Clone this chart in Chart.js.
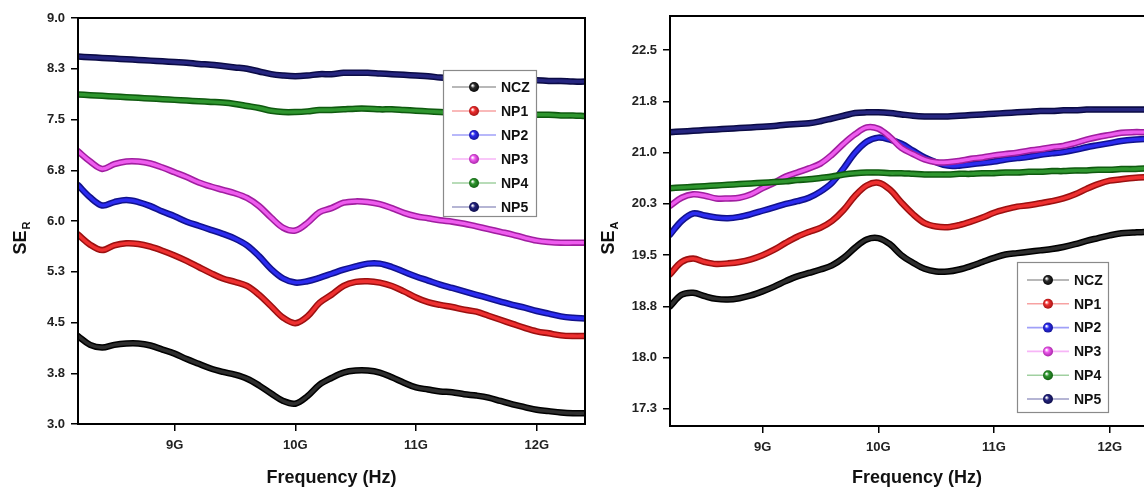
<!DOCTYPE html>
<html>
<head>
<meta charset="utf-8">
<script src="https://cdn.jsdelivr.net/npm/chart.js@4.4.1/dist/chart.umd.min.js"></script>
<style>
  html, body { margin: 0; padding: 0; background: #fff; overflow: hidden; width: 1144px; height: 488px; }
  .panel { position: absolute; top: 0; width: 600px; height: 488px; }
  #panelR { left: 0; }
  #panelA { left: 590px; }
</style>
</head>
<body>
<div class="panel" id="panelR"><canvas id="seR" width="600" height="488"></canvas></div>
<div class="panel" id="panelA"><canvas id="seA" width="600" height="488"></canvas></div>
<script>
// Frequency sweep across the X band (GHz)
const freqGHz = [8.2, 8.3, 8.4, 8.5, 8.6, 8.7, 8.8, 8.9, 9.0, 9.1, 9.2, 9.3, 9.4, 9.5, 9.6, 9.7, 9.8, 9.9, 10.0, 10.1, 10.2,
                 10.3, 10.4, 10.5, 10.6, 10.7, 10.8, 10.9, 11.0, 11.1, 11.2, 11.3, 11.4, 11.5, 11.6, 11.7, 11.8, 11.9, 12.0, 12.1, 12.2, 12.3, 12.4];

const sampleNames = ['NCZ', 'NP1', 'NP2', 'NP3', 'NP4', 'NP5'];

// Reflection shielding effectiveness SE_R (dB)
const seR_NCZ = [4.30, 4.17, 4.13, 4.17, 4.19, 4.19, 4.16, 4.10, 4.04, 3.96, 3.89, 3.82, 3.77, 3.73, 3.67, 3.57, 3.45, 3.34, 3.30, 3.41, 3.58,
                 3.68, 3.76, 3.79, 3.79, 3.76, 3.69, 3.61, 3.54, 3.51, 3.48, 3.47, 3.44, 3.42, 3.39, 3.34, 3.29, 3.25, 3.21, 3.19, 3.17, 3.16, 3.16];
const seR_NP1 = [5.80, 5.65, 5.57, 5.64, 5.67, 5.66, 5.62, 5.56, 5.49, 5.41, 5.32, 5.23, 5.15, 5.10, 5.04, 4.91, 4.74, 4.57, 4.49, 4.59, 4.79,
                 4.91, 5.04, 5.10, 5.11, 5.09, 5.04, 4.96, 4.87, 4.80, 4.76, 4.73, 4.69, 4.66, 4.60, 4.54, 4.48, 4.42, 4.37, 4.34, 4.31, 4.30, 4.30];
const seR_NP2 = [6.53, 6.35, 6.23, 6.28, 6.31, 6.28, 6.22, 6.14, 6.07, 5.99, 5.93, 5.87, 5.81, 5.74, 5.64, 5.48, 5.29, 5.15, 5.09, 5.11, 5.16,
                 5.22, 5.28, 5.33, 5.37, 5.37, 5.32, 5.25, 5.18, 5.12, 5.06, 5.01, 4.96, 4.91, 4.86, 4.81, 4.76, 4.72, 4.67, 4.63, 4.59, 4.57, 4.56];
const seR_NP3 = [7.03, 6.88, 6.77, 6.84, 6.88, 6.88, 6.85, 6.79, 6.72, 6.65, 6.57, 6.51, 6.46, 6.41, 6.34, 6.22, 6.05, 5.90, 5.86, 5.97, 6.13,
                 6.19, 6.27, 6.29, 6.28, 6.25, 6.19, 6.12, 6.07, 6.04, 6.01, 5.99, 5.96, 5.92, 5.88, 5.84, 5.80, 5.75, 5.71, 5.69, 5.68, 5.68, 5.68];
const seR_NP4 = [7.87, 7.86, 7.85, 7.84, 7.83, 7.82, 7.81, 7.80, 7.79, 7.78, 7.77, 7.76, 7.75, 7.73, 7.70, 7.67, 7.63, 7.61, 7.61, 7.62, 7.64,
                 7.64, 7.65, 7.66, 7.66, 7.65, 7.65, 7.64, 7.63, 7.62, 7.61, 7.60, 7.60, 7.59, 7.59, 7.58, 7.58, 7.57, 7.57, 7.57, 7.56, 7.56, 7.55];
const seR_NP5 = [8.43, 8.42, 8.41, 8.40, 8.39, 8.38, 8.37, 8.36, 8.35, 8.34, 8.32, 8.31, 8.29, 8.27, 8.25, 8.21, 8.17, 8.15, 8.14, 8.15, 8.17,
                 8.17, 8.19, 8.19, 8.19, 8.18, 8.17, 8.16, 8.15, 8.14, 8.12, 8.11, 8.10, 8.10, 8.09, 8.09, 8.08, 8.08, 8.08, 8.07, 8.07, 8.06, 8.06];

// Absorption shielding effectiveness SE_A (dB)
const seA_NCZ = [18.75, 18.92, 18.95, 18.90, 18.86, 18.85, 18.87, 18.91, 18.97, 19.04, 19.12, 19.19, 19.24, 19.29, 19.35, 19.46, 19.61, 19.73, 19.75, 19.66, 19.50,
                 19.39, 19.30, 19.26, 19.26, 19.29, 19.34, 19.40, 19.46, 19.51, 19.53, 19.55, 19.57, 19.59, 19.62, 19.66, 19.71, 19.75, 19.79, 19.82, 19.83, 19.84, 19.84];
const seA_NP1 = [19.22, 19.40, 19.45, 19.40, 19.37, 19.38, 19.40, 19.44, 19.50, 19.58, 19.68, 19.77, 19.84, 19.90, 20.00, 20.16, 20.37, 20.52, 20.56, 20.46, 20.27,
                 20.10, 19.97, 19.92, 19.91, 19.94, 19.99, 20.05, 20.12, 20.17, 20.21, 20.23, 20.26, 20.29, 20.33, 20.39, 20.47, 20.54, 20.59, 20.61, 20.63, 20.64, 20.64];
const seA_NP2 = [19.80, 20.00, 20.11, 20.08, 20.05, 20.04, 20.06, 20.10, 20.15, 20.20, 20.25, 20.29, 20.34, 20.43, 20.56, 20.77, 21.00, 21.16, 21.22, 21.19, 21.13,
                 21.03, 20.93, 20.86, 20.81, 20.81, 20.83, 20.85, 20.87, 20.90, 20.92, 20.94, 20.97, 20.99, 21.01, 21.04, 21.08, 21.11, 21.14, 21.17, 21.19, 21.20, 21.21];
const seA_NP3 = [20.22, 20.34, 20.39, 20.37, 20.33, 20.33, 20.34, 20.39, 20.48, 20.56, 20.65, 20.71, 20.77, 20.84, 20.97, 21.13, 21.27, 21.37, 21.35, 21.23, 21.07,
                 20.98, 20.90, 20.86, 20.86, 20.88, 20.91, 20.93, 20.96, 20.98, 21.00, 21.03, 21.05, 21.08, 21.10, 21.14, 21.19, 21.23, 21.26, 21.29, 21.30, 21.30, 21.30];
const seA_NP4 = [20.48, 20.49, 20.50, 20.51, 20.52, 20.53, 20.54, 20.55, 20.56, 20.57, 20.58, 20.60, 20.61, 20.63, 20.65, 20.68, 20.70, 20.71, 20.71, 20.70, 20.70,
                 20.69, 20.68, 20.68, 20.68, 20.69, 20.69, 20.70, 20.70, 20.71, 20.71, 20.72, 20.72, 20.73, 20.73, 20.74, 20.74, 20.75, 20.75, 20.76, 20.76, 20.77, 20.77];
const seA_NP5 = [21.30, 21.31, 21.32, 21.33, 21.34, 21.35, 21.36, 21.37, 21.38, 21.39, 21.41, 21.42, 21.43, 21.46, 21.50, 21.54, 21.58, 21.59, 21.59, 21.58, 21.56,
                 21.54, 21.53, 21.53, 21.53, 21.54, 21.55, 21.56, 21.57, 21.58, 21.59, 21.60, 21.61, 21.61, 21.62, 21.62, 21.63, 21.63, 21.63, 21.63, 21.63, 21.63, 21.63];

// Axis ticks
const freqTicks = [9, 10, 11, 12];
const freqTickLabels = ['9G', '10G', '11G', '12G'];
const seRTicks = [3.0, 3.75, 4.5, 5.25, 6.0, 6.75, 7.5, 8.25, 9.0];
const seATicks = [17.25, 18.0, 18.75, 19.5, 20.25, 21.0, 21.75, 22.5];

// Line colours: bright core over a darker rim
const coreColors = ['#2e2e2e', '#ee3030', '#2c2cf0', '#ee5cee', '#2f962f', '#262680'];
const rimColors  = ['#000000', '#9c1010', '#12128c', '#a01ea0', '#0f5a0f', '#0b0b45'];

const FONT = '"Liberation Sans", Arial, Helvetica, sans-serif';

function hexToRgba(hex, a) {
  const n = parseInt(hex.slice(1), 16);
  return `rgba(${(n >> 16) & 255},${(n >> 8) & 255},${n & 255},${a})`;
}

// Dark rim drawn underneath each line, just before the line itself
const rimPlugin = {
  id: 'rim',
  beforeDatasetDraw(chart, args) {
    const line = args.meta.dataset;
    if (!line) return;
    const ds = chart.data.datasets[args.index];
    const a = chart.chartArea;
    const ctx = chart.ctx;
    ctx.save();
    ctx.beginPath();
    ctx.rect(a.left, a.top, a.right - a.left, a.bottom - a.top);
    ctx.clip();
    ctx.beginPath();
    line.path(ctx);
    ctx.lineWidth = 6.5;
    ctx.lineJoin = 'round';
    ctx.lineCap = 'round';
    ctx.strokeStyle = ds.rimColor;
    ctx.stroke();
    ctx.restore();
  }
};

// Boxed legend placed inside the plot, line sample with a shaded ball
const boxLegendPlugin = {
  id: 'boxLegend',
  afterDatasetsDraw(chart, args, opts) {
    const ctx = chart.ctx;
    ctx.save();
    ctx.fillStyle = '#ffffff';
    ctx.fillRect(opts.x, opts.y, opts.w, opts.h);
    ctx.strokeStyle = '#8a8a8a';
    ctx.lineWidth = 1.2;
    ctx.strokeRect(opts.x + 0.5, opts.y + 0.5, opts.w, opts.h);
    chart.data.datasets.forEach((ds, i) => {
      const y = opts.row0 + i * opts.step;
      ctx.beginPath();
      ctx.moveTo(opts.lineX0, y);
      ctx.lineTo(opts.lineX1, y);
      ctx.strokeStyle = hexToRgba(ds.borderColor, 0.45);
      ctx.lineWidth = 1.6;
      ctx.stroke();
      const cx = (opts.lineX0 + opts.lineX1) / 2;
      const g = ctx.createRadialGradient(cx - 1.6, y - 1.6, 0.4, cx, y, 5.5);
      g.addColorStop(0, '#ffffff');
      g.addColorStop(0.35, ds.borderColor);
      g.addColorStop(1, ds.rimColor);
      ctx.beginPath();
      ctx.arc(cx, y, 5, 0, Math.PI * 2);
      ctx.fillStyle = g;
      ctx.fill();
      ctx.fillStyle = '#111';
      ctx.font = `bold 14px ${FONT}`;
      ctx.textBaseline = 'middle';
      ctx.textAlign = 'left';
      ctx.fillText(ds.label, opts.textX, y + 1);
    });
    ctx.restore();
  }
};

// Closed frame plus the axis titles (y title with a subscript)
const frameTitlePlugin = {
  id: 'frameTitles',
  afterDraw(chart, args, opts) {
    const ctx = chart.ctx;
    const a = chart.chartArea;
    ctx.save();
    ctx.strokeStyle = '#000';
    ctx.lineWidth = 2;
    ctx.strokeRect(a.left, a.top, a.right - a.left, a.bottom - a.top);

    ctx.fillStyle = '#111';
    ctx.font = `bold 18px ${FONT}`;
    ctx.textAlign = 'center';
    ctx.textBaseline = 'alphabetic';
    ctx.fillText(opts.xTitle, (a.left + a.right) / 2 + opts.xTitleShift, opts.xTitleBaseline);

    // rotated "SE" with a lowered subscript
    const mainFont = `bold 18px ${FONT}`;
    const subFont = `bold 11px ${FONT}`;
    ctx.font = mainFont;
    const wMain = ctx.measureText(opts.yTitle).width;
    ctx.font = subFont;
    const wSub = ctx.measureText(opts.yTitleSub).width;
    const total = wMain + 1 + wSub;
    ctx.translate(opts.yTitleBaselineX, opts.yTitleCenterY);
    ctx.rotate(-Math.PI / 2);
    ctx.textAlign = 'left';
    ctx.font = mainFont;
    ctx.fillText(opts.yTitle, -total / 2, 0);
    ctx.font = subFont;
    ctx.fillText(opts.yTitleSub, -total / 2 + wMain + 1, 4);
    ctx.restore();
  }
};

function buildDatasets(seriesList) {
  return seriesList.map((vals, i) => ({
    label: sampleNames[i],
    data: freqGHz.map((f, k) => ({ x: f, y: vals[k] })),
    borderColor: coreColors[i],
    rimColor: rimColors[i],
    borderWidth: 3.4,
    pointRadius: 0,
    tension: 0.35,
    order: sampleNames.length - i
  }));
}

function axisCommon() {
  return {
    grid: { drawOnChartArea: false, drawTicks: true, tickLength: 7, color: '#000', lineWidth: 1.5 },
    border: { display: true, color: '#000', width: 2 }
  };
}

function makeChart(id, seriesList, yMin, yMax, yTicks, setup) {
  return new Chart(document.getElementById(id), {
    type: 'line',
    data: { datasets: buildDatasets(seriesList) },
    options: {
      responsive: false,
      animation: false,
      layout: { padding: setup.padding },
      scales: {
        x: Object.assign(axisCommon(), {
          type: 'linear',
          min: 8.2,
          max: 12.4,
          afterBuildTicks: s => { s.ticks = freqTicks.map(v => ({ value: v })); },
          afterFit: s => { s.height = setup.xAxisHeight; },
          ticks: {
            autoSkip: false,
            maxRotation: 0,
            padding: 7,
            color: '#222',
            font: { family: FONT, size: 13, weight: 'bold' },
            callback: (v, i) => freqTickLabels[i]
          }
        }),
        y: Object.assign(axisCommon(), {
          type: 'linear',
          min: yMin,
          max: yMax,
          afterBuildTicks: s => { s.ticks = yTicks.map(v => ({ value: v })); },
          afterFit: s => { s.width = setup.yAxisWidth; },
          ticks: {
            padding: 6,
            color: '#222',
            font: { family: FONT, size: 13, weight: 'bold' },
            callback: v => Number(v).toFixed(1)
          }
        })
      },
      plugins: {
        legend: { display: false },
        tooltip: { enabled: false },
        boxLegend: setup.legend,
        frameTitles: setup.titles
      }
    },
    plugins: [rimPlugin, boxLegendPlugin, frameTitlePlugin]
  });
}

makeChart('seR', [seR_NCZ, seR_NP1, seR_NP2, seR_NP3, seR_NP4, seR_NP5], 3.0, 9.0, seRTicks, {
  padding: { left: 30, top: 18, right: 15, bottom: 0 },
  yAxisWidth: 48,
  xAxisHeight: 64,
  legend: { x: 443, y: 70, w: 93, h: 146, row0: 87, step: 24, lineX0: 452, lineX1: 496, textX: 501 },
  titles: { xTitle: 'Frequency (Hz)', xTitleShift: 0, xTitleBaseline: 483,
            yTitle: 'SE', yTitleSub: 'R', yTitleBaselineX: 26, yTitleCenterY: 238 }
});

makeChart('seA', [seA_NCZ, seA_NP1, seA_NP2, seA_NP3, seA_NP4, seA_NP5], 17.0, 23.0, seATicks, {
  padding: { left: 32, top: 16, right: 34, bottom: 0 },
  yAxisWidth: 48,
  xAxisHeight: 62,
  legend: { x: 427, y: 262, w: 91, h: 150, row0: 280, step: 23.8, lineX0: 437, lineX1: 479, textX: 484 },
  titles: { xTitle: 'Frequency (Hz)', xTitleShift: 4, xTitleBaseline: 483,
            yTitle: 'SE', yTitleSub: 'A', yTitleBaselineX: 24, yTitleCenterY: 238 }
});
</script>
</body>
</html>
